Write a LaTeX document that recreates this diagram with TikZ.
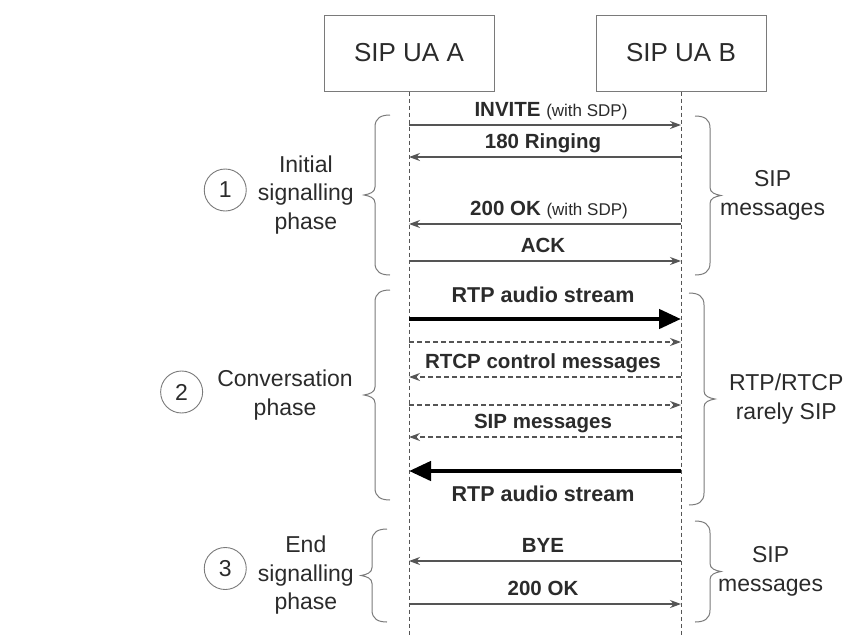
\documentclass[tikz,border=0pt]{standalone}
\usepackage{fontspec}
\setmainfont{Liberation Sans}
\usetikzlibrary{arrows.meta, positioning}

\definecolor{ink}{HTML}{2B2B2B}
\definecolor{rule}{HTML}{555555}
\definecolor{frame}{HTML}{7A7A7A}

\newcommand{\sdpfont}{\mdseries\fontsize{17}{20}\selectfont}

\tikzset{
  brc/.style={draw=frame, line width=1pt},
  % curly brace pointing left, #1 = height
  lbrace/.pic={
    \draw[brc] (0,0) .. controls (-9,0) and (-15,3) .. (-15,12)
      -- (-15,{#1/2-8}) .. controls (-15,{#1/2-3}) and (-20,{#1/2-1}) .. (-26,{#1/2})
      .. controls (-20,{#1/2+1}) and (-15,{#1/2+3}) .. (-15,{#1/2+8})
      -- (-15,{#1-12}) .. controls (-15,{#1-3}) and (-9,#1) .. (0,#1);
    \coordinate (-tip) at (-26,{#1/2});
  }
}

\begin{document}
\begin{tikzpicture}[x=1pt, y=-1pt, >={Stealth[length=11pt,width=8pt]},
  ua/.style={draw=frame, line width=1pt, minimum width=170pt, minimum height=76pt,
    font=\fontsize{26}{30}\selectfont, text=ink},
  life/.style={draw=rule, line width=0.9pt, dash pattern=on 4pt off 3pt},
  msg/.style={->, draw=rule, line width=1.2pt},
  ctl/.style={msg, dash pattern=on 5pt off 3pt},
  media/.style={-{Triangle[length=22pt,width=19pt]}, draw=black, line width=4.5pt},
  lbl/.style={font=\bfseries\fontsize{20.5}{24}\selectfont, text=ink, inner sep=4pt,
    text height=14pt, text depth=4pt, xshift=-2pt},
  big/.style={lbl, font=\bfseries\fontsize{21.5}{25}\selectfont, text height=15pt},
  side/.style={align=center, font=\fontsize{23}{28.5}\selectfont, text=ink, inner sep=0pt},
  num/.style={circle, draw=frame, line width=0.9pt, minimum size=42pt, inner sep=0pt,
    font=\fontsize{23}{28}\selectfont, text=ink}]

  \useasboundingbox (0,0) rectangle (850,637);

  % user agents and lifelines
  \node[ua] (uaA) at (409,53) {SIP UA A};
  \node[ua, right=101pt of uaA] (uaB) {SIP UA B};
  \coordinate (endA) at (uaA.south |- 0,637);
  \coordinate (endB) at (uaB.south |- 0,637);
  \draw[life] (uaA) -- (endA);
  \draw[life] (uaB) -- (endB);

  % message rows on both lifelines
  \foreach \y [count=\i] in {125,157,224,261,319,342,377,405,437,471,561,604} {
    \coordinate (a\i) at (uaA.south |- 0,\y);
    \coordinate (b\i) at (uaB.south |- 0,\y);
  }

  % 1: initial signalling
  \draw[msg] (a1) -- node[lbl, above, xshift=8pt] {INVITE {\sdpfont(with SDP)}} (b1);
  \draw[msg] (b2) -- node[lbl, above] {180 Ringing} (a2);
  \draw[msg] (b3) -- node[lbl, above, xshift=6pt] {200 OK {\sdpfont(with SDP)}} (a3);
  \draw[msg] (a4) -- node[lbl, above] {ACK} (b4);

  % 2: conversation
  \draw[media] (a5) -- node[big, above=6pt] {RTP audio stream} (b5);
  \draw[ctl] (a6) -- (b6);
  \draw[ctl] (b7) -- node[lbl, above] {RTCP control messages} (a7);
  \draw[ctl] (a8) -- (b8);
  \draw[ctl] (b9) -- node[lbl, above] {SIP messages} (a9);
  \draw[media] (b10) -- node[big, below=9pt] {RTP audio stream} (a10);

  % 3: end signalling
  \draw[msg] (b11) -- node[lbl, above] {BYE} (a11);
  \draw[msg] (a12) -- node[lbl, above] {200 OK} (b12);

  % phases (left)
  \pic (bl1) at (390,115) {lbrace=160};
  \pic (bl2) at (390,290) {lbrace=210};
  \pic (bl3) at (387,529) {lbrace=93};
  \node[side, left=10pt of bl1-tip] (ph1) {Initial\\signalling\\phase};
  \node[side, left=11pt of bl2-tip] (ph2) {Conversation\\phase};
  \node[side, left=7pt of bl3-tip] (ph3) {End\\signalling\\phase};
  \node[num, left=11pt of ph1, yshift=5pt] (n1) {1};
  \node[num, left=14pt of ph2, yshift=3pt] (n2) {2};
  \node[num, left=11pt of ph3, yshift=7pt] (n3) {3};

  % traffic (right)
  \pic[xscale=-1] (br1) at (695,116) {lbrace=159};
  \pic[xscale=-1] (br2) at (689,293) {lbrace=212};
  \pic[xscale=-1] (br3) at (695,521) {lbrace=101};
  \node[side, right=-1pt of br1-tip] (tr1) {SIP\\messages};
  \node[side, right=14pt of br2-tip] (tr2) {RTP/RTCP\\rarely SIP};
  \node[side, right=-3pt of br3-tip] (tr3) {SIP\\messages};
\end{tikzpicture}
\end{document}
